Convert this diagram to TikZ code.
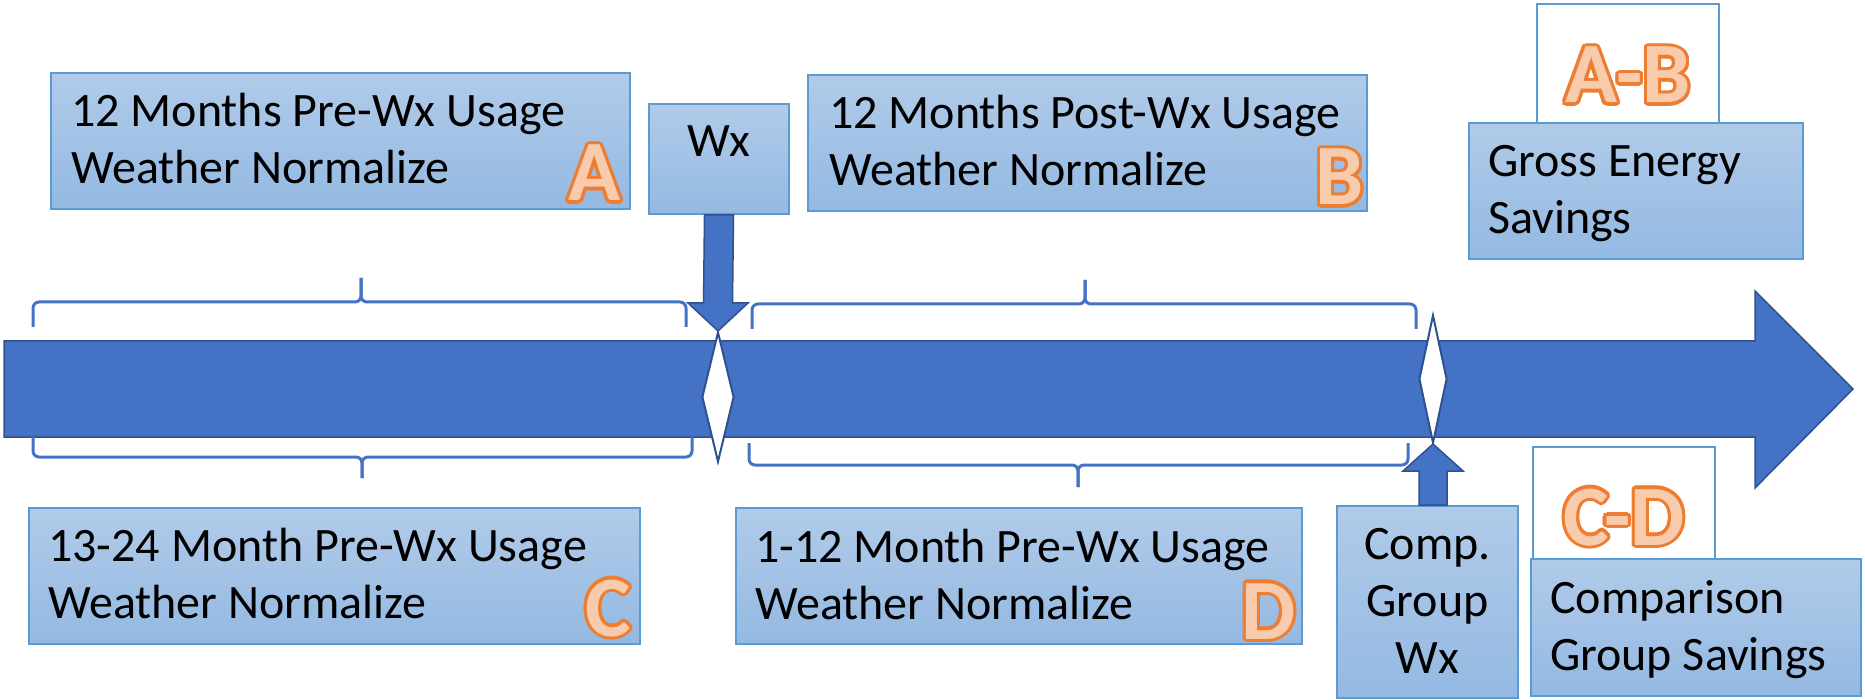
\documentclass[tikz,border=0pt]{standalone}
\usepackage{fontspec}
\setmainfont{Carlito}
\usepackage{contour}
\contourlength{3.2pt}
\usetikzlibrary{shapes.geometric,calc}

\definecolor{barra}{HTML}{4472C4}
\definecolor{borde}{HTML}{2F528F}
\definecolor{marco}{HTML}{5B9BD5}
\definecolor{cajaarriba}{HTML}{B1CBE9}
\definecolor{cajaabajo}{HTML}{94B9E2}
\definecolor{naranja}{HTML}{ED7D31}
\definecolor{melocoton}{HTML}{F8CBAD}

\tikzset{
  caja/.style={rectangle, draw=marco, line width=2pt, top color=cajaarriba, bottom color=cajaabajo, inner sep=0pt, anchor=north west},
  cajablanca/.style={rectangle, draw=marco, line width=2pt, fill=white, inner sep=0pt, anchor=north west},
  texto/.style={inner sep=0pt, align=left, font=\fontsize{48}{57}\selectfont},
  letra/.style={inner sep=0pt, text=melocoton, font=\fontsize{86}{86}\selectfont\bfseries},
  rombo/.style={diamond, draw=borde, line width=2pt, fill=white, inner sep=0pt},
  flecha/.style={fill=barra, draw=borde, line width=1.5pt, line join=miter},
  llave/.style={draw=barra, line width=3pt, rounded corners=6pt}
}

\begin{document}
\begin{tikzpicture}[x=1pt, y=-1pt]
    \useasboundingbox (0,0) rectangle (1865,700);

    % Flecha del tiempo
    \draw[flecha] (4,341) -- (1755,341) -- (1755,291) -- (1853,389) -- (1755,488) -- (1755,437) -- (4,437) -- cycle;

    % Rombos
    \node[rombo, minimum width=32pt, minimum height=130pt] (wxpt) at (718,397) {};
    \node[rombo, minimum width=28pt, minimum height=128pt] (comppt) at (1433,379) {};

    % Llaves superiores
    \draw[llave] (33,327) -- (33,302) -- (361,302) -- (361,278);
    \draw[llave] (361,278) -- (361,302) -- (686,302) -- (686,327);
    \draw[llave] (752,329) -- (752,304) -- (1085,304) -- (1085,280);
    \draw[llave] (1085,280) -- (1085,304) -- (1416,304) -- (1416,329);

    % Llaves inferiores
    \draw[llave] (33,437) -- (33,457) -- (362,457) -- (362,478);
    \draw[llave] (362,478) -- (362,457) -- (692,457) -- (692,437);
    \draw[llave] (749,443) -- (749,465) -- (1078,465) -- (1078,487);
    \draw[llave] (1078,487) -- (1078,465) -- (1408,465) -- (1408,443);

    % Cajas superiores (base = ultima linea)
    \node[caja, minimum width=579pt, minimum height=136pt] (cajaA) at (50,72) {};
    \node[texto, anchor=base west] (textoA) at ($(cajaA.north west)+(21,112)$) {12 Months Pre-Wx Usage\\Weather Normalize};
    \node[letra, anchor=base east] (letraA) at ($(cajaA.south east)+(-10,-9)$) {\contour{naranja}{A}};

    \node[caja, minimum width=140pt, minimum height=110pt] (cajaWx) at (648,103) {};
    \node[texto, anchor=base] (textoWx) at ($(cajaWx.north)+(0,54)$) {Wx};

    \node[caja, minimum width=559pt, minimum height=136pt] (cajaB) at (807,74) {};
    \node[texto, anchor=base west] (textoB) at ($(cajaB.north west)+(22,112)$) {12 Months Post-Wx Usage\\Weather Normalize};
    \node[letra, anchor=base east] (letraB) at ($(cajaB.south east)+(-4,-7)$) {\contour{naranja}{B}};

    \node[cajablanca, minimum width=182pt, minimum height=119pt] (cajaAB) at (1536,3) {};
    \node[letra, anchor=base] (letraAB) at ($(cajaAB.north)+(0,100)$) {\contour{naranja}{A-B}};
    \node[caja, minimum width=334pt, minimum height=136pt] (cajaGross) at (1468,122) {};
    \node[texto, anchor=base west] (textoGross) at ($(cajaGross.north west)+(20,112)$) {Gross Energy\\Savings};

    % Flecha Wx
    \draw[flecha] ($(cajaWx.south)+(-14.5,0)$) -- ($(wxpt.north)+(-14.5,-28)$) -- ($(wxpt.north)+(-30,-28)$) -- (wxpt.north)
        -- ($(wxpt.north)+(30,-28)$) -- ($(wxpt.north)+(14.5,-28)$) -- ($(cajaWx.south)+(14.5,0)$) -- cycle;

    % Cajas inferiores
    \node[caja, minimum width=611pt, minimum height=136pt] (cajaC) at (28,507) {};
    \node[texto, anchor=base west] (textoC) at ($(cajaC.north west)+(20,111)$) {13-24 Month Pre-Wx Usage\\Weather Normalize};
    \node[letra, anchor=base east] (letraC) at ($(cajaC.south east)+(-10,-9)$) {\contour{naranja}{C}};

    \node[caja, minimum width=566pt, minimum height=136pt] (cajaD) at (735,507) {};
    \node[texto, anchor=base west] (textoD) at ($(cajaD.north west)+(20,112)$) {1-12 Month Pre-Wx Usage\\Weather Normalize};
    \node[letra, anchor=base east] (letraD) at ($(cajaD.south east)+(-7,-6)$) {\contour{naranja}{D}};

    \node[caja, minimum width=181pt, minimum height=192pt] (cajaComp) at (1336,505) {};
    \node[texto, align=center, anchor=base] (textoComp) at ($(cajaComp.north)+(0,168)$) {Comp.\\Group\\Wx};

    \node[cajablanca, minimum width=182pt, minimum height=112pt] (cajaCD) at (1532,446) {};
    \node[letra, anchor=base] (letraCD) at ($(cajaCD.north)+(0,99)$) {\contour{naranja}{C-D}};
    \node[caja, minimum width=330pt, minimum height=137pt] (cajaComparison) at (1530,558) {};
    \node[texto, anchor=base west] (textoComparison) at ($(cajaComparison.north west)+(20,112)$) {Comparison\\Group Savings};

    % Flecha grupo de comparacion
    \coordinate (compbase) at (comppt.south |- cajaComp.north);
    \draw[flecha] ($(compbase)+(-14,0)$) -- ($(comppt.south)+(-14,27)$) -- ($(comppt.south)+(-30,27)$) -- (comppt.south)
        -- ($(comppt.south)+(30,27)$) -- ($(comppt.south)+(14,27)$) -- ($(compbase)+(14,0)$) -- cycle;
\end{tikzpicture}
\end{document}
